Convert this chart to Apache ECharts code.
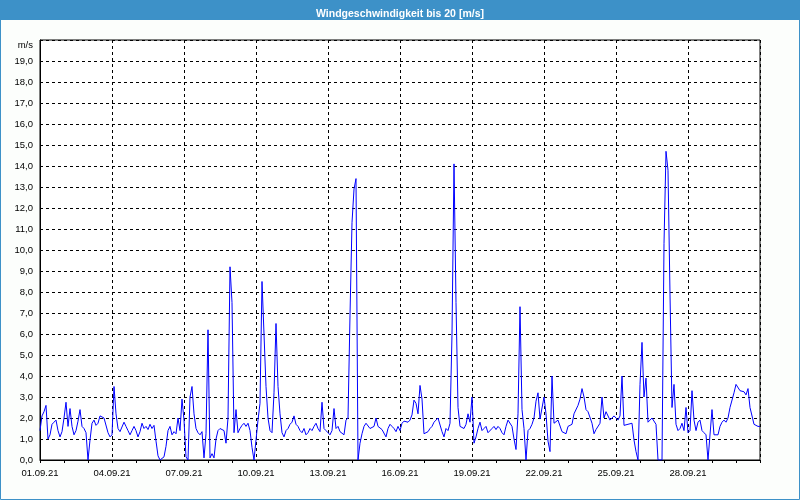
<!DOCTYPE html>
<html>
<head>
<meta charset="utf-8">
<script src="https://cdn.jsdelivr.net/npm/echarts@6/dist/echarts.min.js"></script>
<style>
html,body{margin:0;padding:0;background:#fcfefc;}
#c{width:800px;height:500px;}
</style>
</head>
<body>
<div id="c"></div>
<script>
// Wind speed in m/s, one reading every 2 hours from 01.09.21 00:00 to 01.10.21 00:00
const stepHours = 2;
const speed = [
  1.4, 2.1, 2.3, 2.6, 1.0, 1.2, 1.7, 1.8, 1.9, 1.4, 1.1, 1.35,
  2.0, 2.75, 1.6, 2.45, 1.6, 1.2, 1.4, 1.85, 2.4, 1.6, 1.5, 1.3,
  0.0, 0.95, 1.75, 1.9, 1.65, 1.75, 2.1, 2.05, 2.0, 2.0, 1.3, 1.1,
  1.2, 3.5, 2.2, 1.5, 1.35, 1.4, 1.8, 1.6, 1.4, 1.2, 1.4, 1.6,
  1.4, 1.1, 1.35, 1.75, 1.5, 1.6, 1.45, 1.7, 1.5, 1.65, 0.9, 0.2,
  0.0, 0.05, 0.15, 0.65, 1.4, 1.6, 1.2, 1.35, 1.25, 2.0, 1.4, 2.9,
  1.9, 0.15, 0.0, 3.0, 3.5, 2.2, 1.5, 1.3, 1.2, 1.35, 0.1, 1.25,
  6.2, 0.1, 0.3, 0.1, 1.0, 1.4, 1.5, 1.55, 1.4, 0.8, 2.0, 9.2,
  7.5, 1.3, 2.4, 1.3, 1.5, 1.65, 1.75, 1.6, 1.75, 1.4, 0.6, 0.0,
  0.0, 1.9, 2.7, 8.5, 6.0, 3.5, 2.0, 1.4, 1.3, 3.2, 6.5, 3.5,
  2.2, 1.3, 1.1, 1.4, 1.5, 1.7, 1.8, 2.1, 1.7, 1.6, 1.4, 1.3,
  1.5, 1.2, 1.3, 1.5, 1.4, 1.6, 1.75, 1.5, 1.35, 2.75, 1.5, 1.4,
  1.3, 1.2, 1.4, 2.45, 1.5, 1.6, 1.35, 1.3, 1.2, 1.9, 2.0, 6.9,
  11.3, 12.9, 13.4, 0.0, 0.8, 1.25, 1.6, 1.75, 1.8, 1.5, 1.45, 1.6,
  2.0, 1.6, 1.6, 1.45, 1.5, 1.1, 1.5, 1.7, 1.6, 1.5, 1.35, 1.6,
  1.4, 1.75, 1.85, 1.9, 1.8, 1.9, 2.15, 2.85, 2.7, 2.2, 3.55, 2.9,
  1.25, 1.3, 1.35, 1.5, 1.6, 1.8, 1.9, 2.0, 1.95, 1.35, 1.1, 1.5,
  1.4, 1.75, 6.0, 14.1, 7.5, 2.5, 1.6, 1.55, 1.5, 1.7, 2.2, 1.8,
  3.0, 0.8, 1.1, 1.5, 1.8, 1.4, 1.5, 1.6, 1.3, 1.25, 1.5, 1.6,
  1.45, 1.6, 1.5, 1.3, 1.2, 1.6, 1.9, 1.85, 1.6, 1.0, 0.5, 2.2,
  7.3, 2.4, 1.5, 0.0, 1.4, 1.5, 1.7, 2.0, 2.8, 3.2, 1.95, 2.0,
  3.0, 2.2, 0.9, 0.4, 4.0, 1.75, 1.75, 1.9, 1.85, 1.35, 1.3, 1.25,
  1.6, 1.6, 1.7, 2.2, 2.2, 2.6, 2.9, 3.4, 3.0, 2.4, 2.3, 2.3,
  1.75, 1.25, 1.45, 1.45, 1.75, 3.0, 2.0, 2.3, 2.35, 1.9, 2.0, 2.1,
  2.0, 1.9, 2.1, 4.0, 1.65, 1.6, 1.7, 1.75, 1.75, 0.95, 0.4, 0.0,
  3.6, 5.6, 3.0, 3.9, 1.8, 1.9, 2.0, 2.0, 1.7, 0.0, 0.0, 0.0,
  10.3, 14.7, 13.8, 7.9, 2.5, 3.6, 1.7, 1.4, 1.5, 1.75, 1.4, 2.5,
  1.3, 1.4, 3.3, 1.9, 1.4, 1.8, 1.9, 1.4, 1.3, 1.2, 0.0, 0.0,
  2.4, 1.2, 1.2, 1.2, 1.6, 1.8, 1.9, 1.8, 2.0, 2.5, 2.5, 3.2,
  3.6, 3.65, 3.3, 3.25, 3.25, 3.1, 3.4, 2.5, 2.5, 1.7, 1.65, 1.6,
  1.6
];
const xTickLabels = ['01.09.21','04.09.21','07.09.21','10.09.21','13.09.21','16.09.21','19.09.21','22.09.21','25.09.21','28.09.21'];
const yUnit = 'm/s';
const titleText = 'Windgeschwindigkeit bis 20 [m/s]';

const seriesData = speed.map((v, i) => [i * stepHours, v]);

const chart = echarts.init(document.getElementById('c'), null, {renderer: 'canvas'});
const labelFont = 'Liberation Sans, Arial, sans-serif';
chart.setOption({
  backgroundColor: '#fcfefc',
  animation: false,
  title: {
    text: titleText,
    left: 'center',
    top: 4,
    textStyle: {color: '#ffffff', fontSize: 10.5, fontWeight: 'bold', fontFamily: labelFont}
  },
  graphic: [
    {type: 'rect', shape: {x: 0, y: 0, width: 800, height: 20}, style: {fill: '#3d91c8'}, z: -1},
    {type: 'rect', shape: {x: 0.5, y: 0.5, width: 799, height: 499}, style: {fill: null, stroke: '#3d91c8', lineWidth: 1}, z: -1}
  ],
  grid: {left: 40, right: 40, top: 40, bottom: 40, show: true, borderColor: '#000', borderWidth: 1, backgroundColor: '#ffffff'},
  xAxis: {
    type: 'value', min: 0, max: 720, interval: 72,
    axisLine: {show: true, lineStyle: {color: '#000'}},
    axisTick: {show: true, length: 3, lineStyle: {color: '#000'}},
    minorTick: {show: true, splitNumber: 3, length: 3, lineStyle: {color: '#000'}},
    axisLabel: {
      color: '#000', fontSize: 9.5, fontFamily: labelFont, margin: 8, showMaxLabel: false,
      formatter: v => xTickLabels[Math.round(v / 72)] || ''
    },
    splitLine: {show: true, lineStyle: {color: '#000', type: [3, 3], width: 1}}
  },
  yAxis: {
    type: 'value', min: 0, max: 20, interval: 1,
    axisLine: {show: true, lineStyle: {color: '#000'}},
    axisTick: {show: false},
    axisLabel: {
      color: '#000', fontSize: 9.5, fontFamily: labelFont, margin: 7,
      formatter: v => v === 20 ? '{u|' + yUnit + '}' : v.toFixed(1).replace('.', ','),
      rich: {u: {fontSize: 9.5, fontFamily: labelFont, color: '#000', padding: [10, 0, 0, 0]}}
    },
    splitLine: {show: true, lineStyle: {color: '#000', type: [3, 3], width: 1}}
  },
  series: [{
    type: 'line',
    data: seriesData,
    showSymbol: false,
    symbol: 'none',
    lineStyle: {color: '#0000ff', width: 1},
    itemStyle: {color: '#0000ff'}
  }]
});
</script>
</body>
</html>
